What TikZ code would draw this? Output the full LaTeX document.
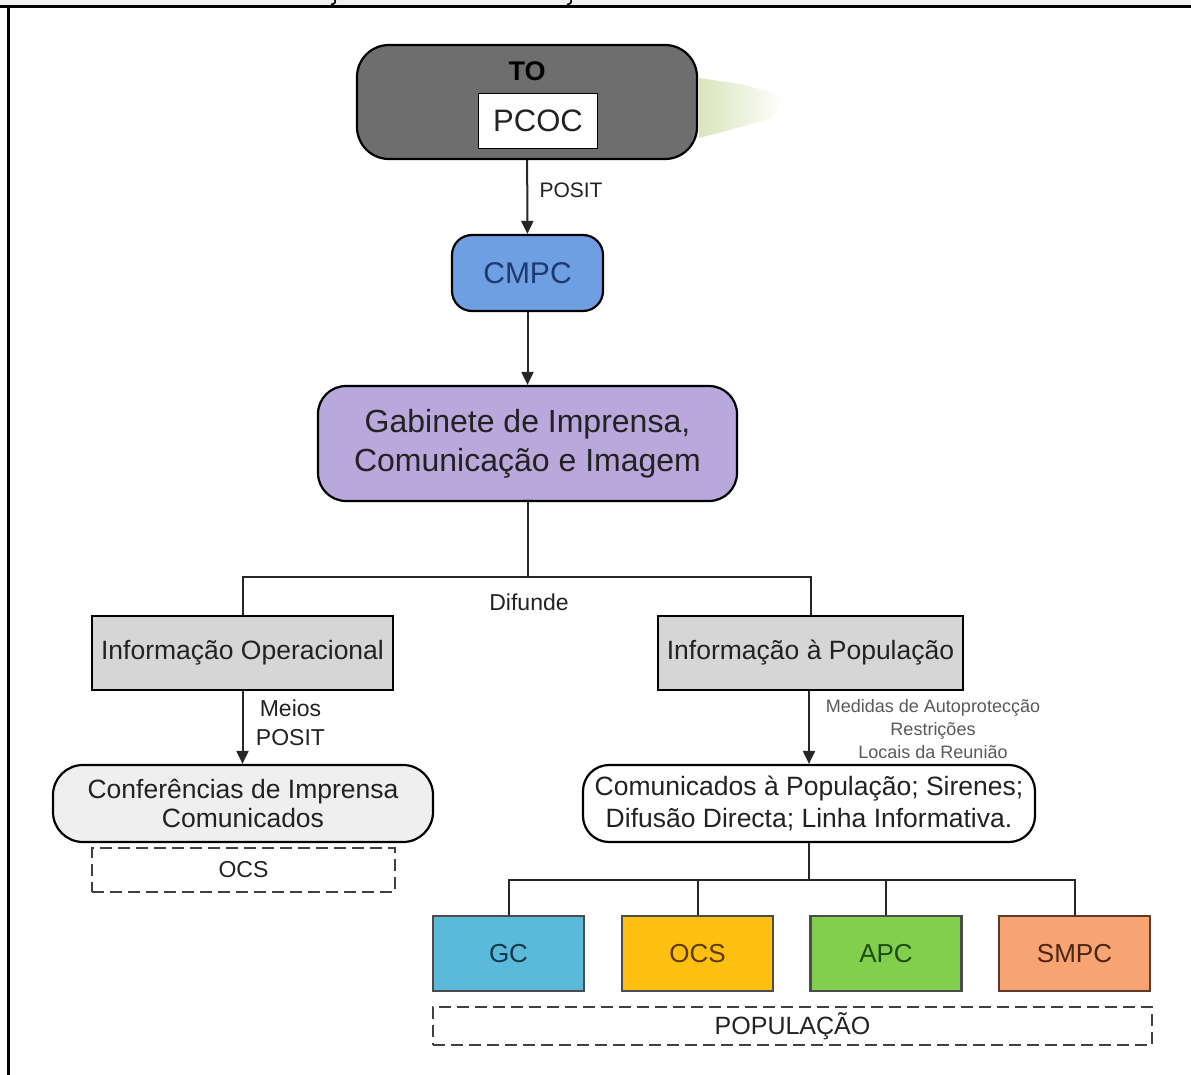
\documentclass[tikz,border=0pt]{standalone}
\usepackage{fontspec}
\setmainfont{Liberation Sans}
\usetikzlibrary{arrows.meta}
\definecolor{darkbox}{HTML}{6E6E6E}
\definecolor{cmpcfill}{HTML}{6F9FE3}
\definecolor{cmpctext}{HTML}{1D3A6E}
\definecolor{gabfill}{HTML}{B8A8DC}
\definecolor{infofill}{HTML}{D6D6D6}
\definecolor{conffill}{HTML}{EFEFEF}
\definecolor{gcfill}{HTML}{5BBAD9}
\definecolor{gctext}{HTML}{14384A}
\definecolor{ocsfill}{HTML}{FDC010}
\definecolor{ocstext}{HTML}{5B3A00}
\definecolor{apcfill}{HTML}{82CF4E}
\definecolor{apctext}{HTML}{1F4D10}
\definecolor{smpcfill}{HTML}{F6A474}
\definecolor{smpctext}{HTML}{4D2410}
\definecolor{inktext}{HTML}{222222}
\definecolor{smudge}{HTML}{A8C060}
\newcommand{\fs}[1]{\fontsize{#1}{#1}\selectfont}
\tikzset{
  base/.style={draw=black, line width=2.2pt, inner sep=0pt, align=center, text=inktext},
  rbox/.style={base, rounded corners=#1},
  sbox/.style={base},
  dbox/.style={draw=black!75, line width=2pt, dash pattern=on 12pt off 6pt, inner sep=0pt, align=center, text=inktext},
  colbox/.style={draw=black!70, line width=2.2pt, inner sep=0pt, minimum width=151pt, minimum height=75pt, font=\fs{26}},
  conn/.style={line width=2pt, draw=black!85},
  arr/.style={conn, -{Triangle[length=13pt,width=12pt]}}
}
\begin{document}
\begin{tikzpicture}[x=1pt, y=-1pt]
\useasboundingbox (0,0) rectangle (1191,1075);
% page frame
\fill[black!6] (0,0) rectangle (1191,5.5);
\draw[line width=3pt] (0,6.5) -- (1191,6.5);
\draw[line width=3pt] (8,6.5) -- (8,1075);
\draw[line width=1.6pt] (335,0) .. controls (336,3) and (334,4) .. (331,4.5);
\draw[line width=1.6pt] (571,0) .. controls (572,3) and (570,4) .. (567,4.5);

% soft green trace beside the top box
\shade[left color=smudge!70, right color=white, opacity=0.6]
  (699,78) -- (740,84) -- (785,96) -- (772,118) -- (730,130) -- (699,138) -- cycle;

% top box
\node[rbox=32pt, fill=darkbox, minimum width=340pt, minimum height=114pt] (TO) at (527,102) {};
\node[font=\bfseries\fs{27}, text=black] (TOlabel) at (527,71) {TO};
\node[sbox, fill=white, line width=1.6pt, minimum width=119pt, minimum height=55pt, font=\fs{31}] (PCOC) at (538,121) {PCOC};

\node[rbox=20pt, fill=cmpcfill, minimum width=151pt, minimum height=76pt, font=\fs{30}, text=cmpctext] (CMPC) at (527.5,273) {CMPC};

\node[rbox=28pt, fill=gabfill, minimum width=419pt, minimum height=115pt, font=\fs{32}]
  (GAB) at (527.5,443.5) {Gabinete de Imprensa,\\[7pt]Comunicação e Imagem};

\node[sbox, fill=infofill, minimum width=301pt, minimum height=74pt, font=\fs{26.5}] (IO) at (242.5,653) {Informação Operacional};
\node[sbox, fill=infofill, minimum width=305pt, minimum height=74pt, font=\fs{26.5}] (IP) at (810.5,653) {Informação à População};

\node[rbox=30pt, fill=conffill, minimum width=380pt, minimum height=77pt, font=\fs{26.5}]
  (CONF) at (243,803.5) {Conferências de Imprensa\\[3pt]Comunicados};
\node[dbox, minimum width=303pt, minimum height=44pt, font=\fs{23}] (OCSA) at (243.5,870) {OCS};

\node[rbox=26pt, fill=white, minimum width=452pt, minimum height=77pt, font=\fs{26.5}]
  (COM) at (809,803.5) {Comunicados à População; Sirenes;\\[6pt]Difusão Directa; Linha Informativa.};

\node[colbox, fill=gcfill, text=gctext] (GC) at (508.5,953.5) {GC};
\node[colbox, fill=ocsfill, text=ocstext] (OCSB) at (697.5,953.5) {OCS};
\node[colbox, fill=apcfill, text=apctext] (APC) at (886,953.5) {APC};
\node[colbox, fill=smpcfill, text=smpctext, draw=smpctext!90] (SMPC) at (1074.5,953.5) {SMPC};

\node[dbox, minimum width=719pt, minimum height=38pt, font=\fs{25}] (POP) at (792.5,1026) {POPULAÇÃO};

% connectors
\draw[arr] (TO) -- (CMPC);
\node[anchor=west, font=\fs{21}, text=inktext] (posit1) at (536,190) {POSIT};
\draw[arr] (CMPC) -- (GAB);

\coordinate (fork1) at (527.5,577);
\draw[conn] (GAB) -- (fork1);
\draw[conn] (IO.north) |- (fork1) -| (IP.north);
\node[font=\fs{23}, text=inktext] (difunde) at (529,602) {Difunde};

\draw[arr] (IO.south) -- (IO.south |- CONF.north);
\node[font=\fs{23}, text=inktext, align=center] (meios) at (290.5,722.5) {Meios\\[6pt]POSIT};

\draw[arr] (IP.south -| COM.north) -- (COM.north);
\node[font=\fs{18}, text=black!65, align=center] (medidas) at (933,729) {Medidas de Autoprotecção\\[5pt]Restrições\\[5pt]Locais da Reunião};

\coordinate (fork2) at (809,880);
\draw[conn] (COM) -- (fork2);
\draw[conn] (GC.north) |- (fork2) -| (SMPC.north);
\draw[conn] (OCSB.north) -- (OCSB.north |- fork2);
\draw[conn] (APC.north) -- (APC.north |- fork2);
\end{tikzpicture}
\end{document}
